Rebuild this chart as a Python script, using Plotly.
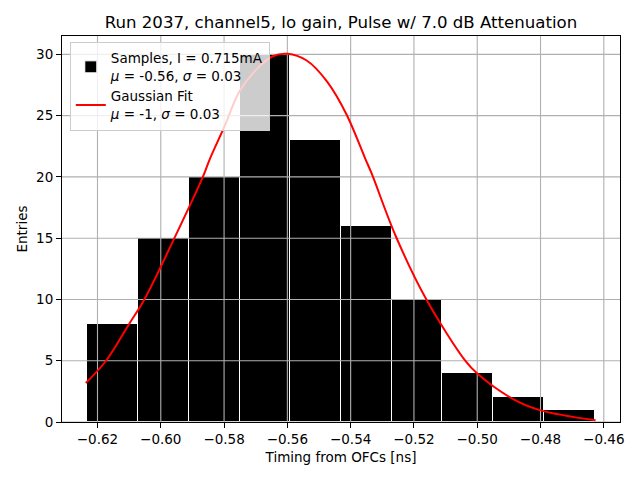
import plotly.graph_objects as go

# ---- data ----
bin_edges = [-0.6232, -0.6072, -0.5911, -0.5751, -0.5591, -0.5430,
             -0.5270, -0.5110, -0.4949, -0.4789, -0.4629]
counts = [8, 15, 20, 30, 23, 16, 10, 4, 2, 1]

fit_x = [-0.6237, -0.6173, -0.6100, -0.6052, -0.5957, -0.5867, -0.5846,
         -0.5799, -0.5751, -0.5693, -0.5646, -0.5600, -0.5539, -0.5475,
         -0.5413, -0.5354, -0.5334, -0.5258, -0.5165, -0.5038, -0.5000,
         -0.4882, -0.4800, -0.4626]
fit_y = [3.18, 5.0, 8.0, 10.0, 15.0, 20.0, 21.4,
         24.1, 27.0, 28.9, 29.85, 30.05, 29.5, 27.8,
         25.1, 21.5, 20.3, 15.2, 10.2, 5.0, 3.95,
         1.8, 0.95, 0.14]

x_ticks = [-0.62, -0.60, -0.58, -0.56, -0.54, -0.52, -0.50, -0.48, -0.46]
x_tick_labels = ["\u22120.62", "\u22120.60", "\u22120.58", "\u22120.56", "\u22120.54",
                 "\u22120.52", "\u22120.50", "\u22120.48", "\u22120.46"]
y_ticks = [0, 5, 10, 15, 20, 25, 30]
y_tick_labels = ["0", "5", "10", "15", "20", "25", "30"]

title_text = "Run 2037, channel5, lo gain, Pulse w/ 7.0 dB Attenuation"
sample_label = "Samples, I = 0.715mA<br><i>\u03bc</i> = -0.56, <i>\u03c3</i> = 0.03"
fit_label = "Gaussian Fit<br><i>\u03bc</i> = -1, <i>\u03c3</i> = 0.03"
x_title = "Timing from OFCs [ns]"
y_title = "Entries"

# ---- derived ----
centers = [(a + b) / 2 for a, b in zip(bin_edges[:-1], bin_edges[1:])]
widths = [b - a for a, b in zip(bin_edges[:-1], bin_edges[1:])]
span = bin_edges[-1] - bin_edges[0]
x_range = [bin_edges[0] - 0.05 * span, bin_edges[-1] + 0.05 * span]
y_range = [0, max(counts) * 1.05]

FONT = "DejaVu Sans"

fig = go.Figure()
fig.add_trace(go.Bar(
    x=centers, y=counts, width=widths, name=sample_label,
    marker=dict(color="black", line=dict(color="white", width=1)),
    hoverinfo="skip",
))

# grid lines drawn above bars but below the fit line (matplotlib default)
gx, gy = [], []
for t in x_ticks:
    gx += [t, t, None]
    gy += [y_range[0], y_range[1], None]
for t in y_ticks:
    gx += [x_range[0], x_range[1], None]
    gy += [t, t, None]
fig.add_trace(go.Scatter(
    x=gx, y=gy, mode="lines", line=dict(color="#b0b0b0", width=1.1),
    showlegend=False, hoverinfo="skip",
))

fig.add_trace(go.Scatter(
    x=fit_x, y=fit_y, mode="lines", name=fit_label,
    line=dict(color="red", width=2, shape="spline", smoothing=1.0),
    hoverinfo="skip",
))

axis_common = dict(
    showline=True, mirror=True, linecolor="black", linewidth=1.1,
    ticks="outside", ticklen=5, tickwidth=1.1, tickcolor="black",
    showgrid=False, zeroline=False, automargin=False,
    tickfont=dict(family=FONT, size=13.5, color="black"),
)

fig.update_layout(
    width=640, height=480,
    margin=dict(l=62, r=20, t=36, b=58),
    paper_bgcolor="white", plot_bgcolor="white",
    font=dict(family=FONT, color="black"),
    title=dict(text=title_text, x=0.5, xref="paper", xanchor="center",
               y=(480 - 22) / 480, yref="container", yanchor="middle",
               font=dict(family=FONT, size=16.6, color="black")),
    xaxis=dict(range=x_range, tickvals=x_ticks, ticktext=x_tick_labels,
               title=dict(text=x_title, font=dict(family=FONT, size=13.5), standoff=6),
               **axis_common),
    yaxis=dict(range=y_range, tickvals=y_ticks, ticktext=y_tick_labels,
               title=dict(text=y_title, font=dict(family=FONT, size=13.5), standoff=5),
               **axis_common),
    bargap=0,
    showlegend=True,
    legend=dict(x=0.014, y=0.985, xanchor="left", yanchor="top",
                bgcolor="rgba(255,255,255,0.8)", bordercolor="#cccccc", borderwidth=1,
                font=dict(family=FONT, size=13.5, color="black"),
                tracegroupgap=4),
)

fig.write_html("out.html", config={"displayModeBar": False},
               post_script="document.body.style.margin='0';document.body.style.padding='0';")
